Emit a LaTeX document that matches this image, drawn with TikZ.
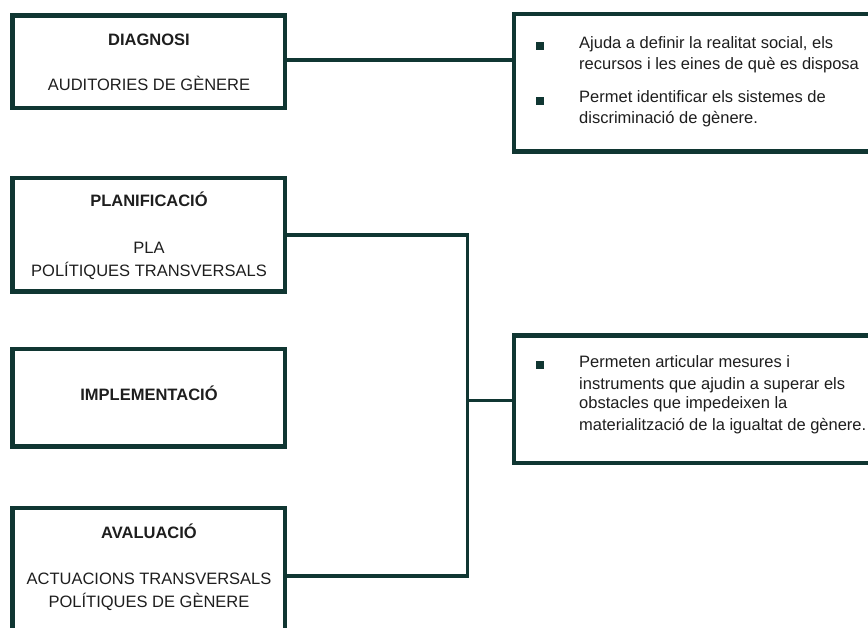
\documentclass[tikz,border=0pt]{standalone}
\usepackage{fontspec}
\setmainfont{Liberation Sans}
\definecolor{boxcol}{RGB}{16,54,50}
\definecolor{txtcol}{RGB}{30,30,30}
\begin{document}
\begin{tikzpicture}[x=1pt,y=-1pt,
  stagebox/.style={draw=boxcol,line width=4.5pt,inner sep=0pt,minimum width=272.5pt},
  infobox/.style={draw=boxcol,line width=4.5pt,inner sep=0pt,minimum width=386pt},
  conn/.style={draw=boxcol,line width=3.6pt},
  ttl/.style={anchor=base,inner sep=0pt,text=txtcol,font=\fontsize{16.5}{20}\selectfont\bfseries},
  sub/.style={anchor=base,inner sep=0pt,text=txtcol,font=\fontsize{16.5}{20}\selectfont},
  itm/.style={anchor=base west,inner sep=0pt,text=txtcol,font=\fontsize{16.5}{20}\selectfont},
  bul/.style={fill=boxcol,inner sep=0pt,minimum size=8pt}]
\useasboundingbox (0,0) rectangle (868,628);
\clip (0,0) rectangle (868,628);
\fill[white] (0,0) rectangle (868,628);
% stage boxes
\node[stagebox,minimum height=92.5pt] (diag) at (148.75,61.75) {};
\node[stagebox,minimum height=113.5pt] (plan) at (148.75,234.75) {};
\node[stagebox,minimum height=97.5pt] (impl) at (148.75,397.75) {};
\node[stagebox,minimum height=136pt] (aval) at (148.75,576) {};
% info boxes
\node[infobox,minimum height=137.5pt] (info1) at (707,82.75) {};
\node[infobox,minimum height=127.5pt] (info2) at (707,399.25) {};
% stage texts
\node[ttl] (t1) at (149,46) {DIAGNOSI};
\node[sub] (s1) at (149,91) {AUDITORIES DE GÈNERE};
\node[ttl] (t2) at (149,207) {PLANIFICACIÓ};
\node[sub] (s2a) at (149,254) {PLA};
\node[sub] (s2b) at (149,277) {POLÍTIQUES TRANSVERSALS};
\node[ttl] (t3) at (149,401) {IMPLEMENTACIÓ};
\node[ttl] (t4) at (149,538) {AVALUACIÓ};
\node[sub] (s4a) at (149,584) {ACTUACIONS TRANSVERSALS};
\node[sub] (s4b) at (149,607) {POLÍTIQUES DE GÈNERE};
% info texts
\node[bul] (b1) at (540,46) {};
\node[itm] (i1a) at (579,49) {Ajuda a definir la realitat social, els};
\node[itm] (i1b) at (579,70) {recursos i les eines de què es disposa};
\node[bul] (b2) at (540,101) {};
\node[itm] (i2a) at (579,103) {Permet identificar els sistemes de};
\node[itm] (i2b) at (579,124) {discriminació de gènere.};
\node[bul] (b3) at (540,365) {};
\node[itm] (i3a) at (579,368) {Permeten articular mesures i};
\node[itm] (i3b) at (579,389) {instruments que ajudin a superar els};
\node[itm] (i3c) at (579,409) {obstacles que impedeixen la};
\node[itm] (i3d) at (579,430) {materialització de la igualtat de gènere.};
% connectors
\coordinate (jx) at (467.5,400.5);
\draw[conn] (diag.east |- 0,60) -- (info1.west |- 0,60);
\draw[conn] (plan.east) -| (jx) |- (aval.east);
\draw[conn] (jx) -- (info2.west |- jx);
\end{tikzpicture}
\end{document}
